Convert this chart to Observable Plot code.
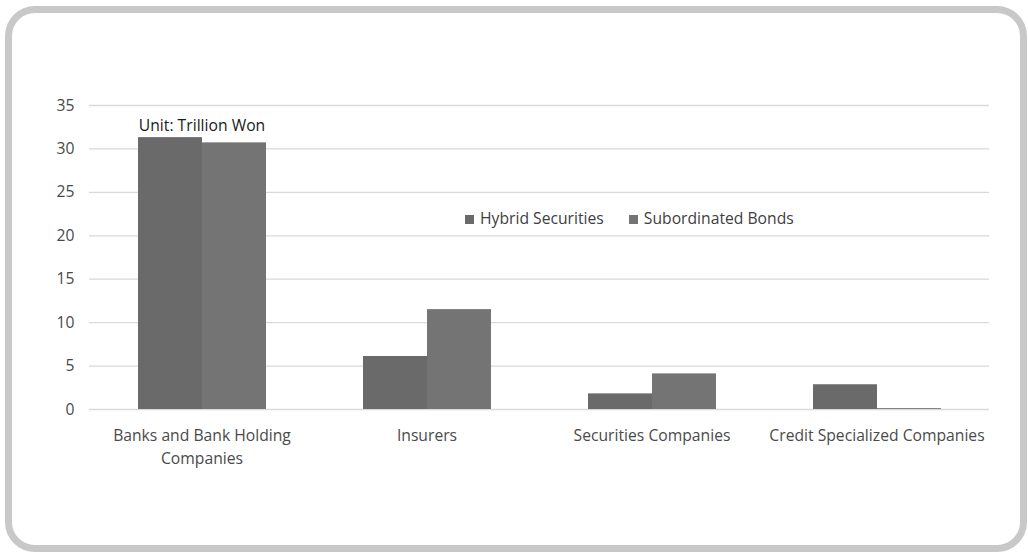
<!DOCTYPE html>
<html>
<head>
<meta charset="utf-8">
<script src="https://cdn.jsdelivr.net/npm/d3@7"></script>
<script src="https://cdn.jsdelivr.net/npm/@observablehq/plot@0.6"></script>
<style>
  body { margin: 0; background: #fff; }
  #wrap { position: relative; width: 1028px; height: 553px; overflow: hidden; font-family: "Open Sans", sans-serif; }
  #frame { position: absolute; left: 5px; top: 6px; width: 1022px; height: 546px; box-sizing: border-box;
           border: 7px solid #c8c8c8; border-radius: 30px; }
  #chart { position: absolute; left: 0; top: 0; }
  #legend { position: absolute; left: 465px; top: 207px; font-size: 15.7px; color: #404040; display: flex; gap: 25px; }
  #legend span.sw { display: inline-block; width: 9px; height: 9px; margin-right: 6px; vertical-align: 0px; }
</style>
</head>
<body>
<div id="wrap">
  <div id="frame"></div>
  <div id="chart"></div>
  <div id="legend"></div>
</div>
<script>
const categories = ["Banks and Bank Holding Companies", "Insurers", "Securities Companies", "Credit Specialized Companies"];
const categoryLabels = ["Banks and Bank Holding\nCompanies", "Insurers", "Securities Companies", "Credit Specialized Companies"];
const seriesNames = ["Hybrid Securities", "Subordinated Bonds"];
const hybridValues = [31.3, 6.1, 1.8, 2.85];
const subordinatedValues = [30.7, 11.5, 4.1, 0.1];
const seriesColors = ["#6a6a6a", "#747474"];
const yTicks = [0, 5, 10, 15, 20, 25, 30, 35];
const unitLabel = "Unit: Trillion Won";

const data = [];
categories.forEach((c, i) => {
  data.push({cat: c, series: seriesNames[0], value: hybridValues[i]});
  data.push({cat: c, series: seriesNames[1], value: subordinatedValues[i]});
});
const labelOf = new Map(categories.map((c, i) => [c, categoryLabels[i]]));

const chart = Plot.plot({
  width: 1028,
  height: 553,
  marginLeft: 88,
  marginRight: 38,
  marginTop: 105,
  marginBottom: 144,
  style: {fontFamily: "'Open Sans', sans-serif", background: "transparent"},
  fx: {domain: categories, padding: 0, label: null, axis: null},
  x: {domain: seriesNames, paddingInner: 0, paddingOuter: 0.75, axis: null},
  y: {domain: [0, 35], axis: null},
  color: {domain: seriesNames, range: seriesColors},
  marks: [
    Plot.gridY(yTicks, {stroke: "#d9d9d9", strokeOpacity: 1, strokeWidth: 1.3}),
    Plot.barY(data, {fx: "cat", x: "series", y: "value", fill: "series"}),
    Plot.axisY(yTicks, {tickSize: 0, tickPadding: 15, fontSize: 15.7, fill: "#4a4a4a", label: null}),
    Plot.axisFx({anchor: "bottom", tickSize: 0, tickPadding: 16, fontSize: 15.7, fill: "#4a4a4a",
      lineHeight: 1.42, label: null, tickFormat: d => labelOf.get(d)}),
    Plot.text([{cat: categories[0]}], {fx: "cat", text: () => unitLabel, frameAnchor: "top", dy: 14, fontSize: 15.7, fill: "#1a1a1a"})
  ]
});
document.getElementById("chart").appendChild(chart);

const legend = document.getElementById("legend");
seriesNames.forEach((s, i) => {
  const item = document.createElement("div");
  const sw = document.createElement("span");
  sw.className = "sw";
  sw.style.background = seriesColors[i];
  item.appendChild(sw);
  item.appendChild(document.createTextNode(s));
  legend.appendChild(item);
});
</script>
</body>
</html>
